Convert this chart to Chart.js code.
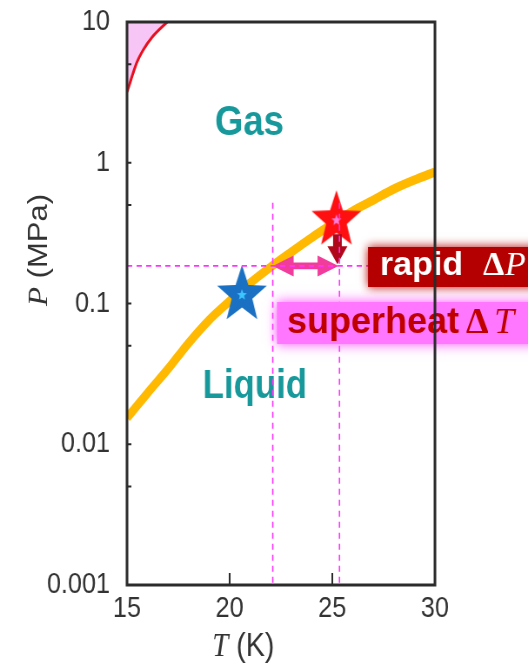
<!DOCTYPE html>
<html><head><meta charset="utf-8">
<script src="https://cdn.jsdelivr.net/npm/chart.js@4/dist/chart.umd.min.js"></script>
<style>
html,body{margin:0;padding:0;background:#fff;overflow:hidden;width:528px;height:664px}
#wrap{width:607px;height:664px;transform:scaleX(0.869852);transform-origin:0 0}
canvas{display:block}
</style></head><body>
<div id="wrap"><canvas id="c" width="607" height="664" style="width:607px;height:664px"></canvas></div>
<script>
// ---- data ----
const xTicks = [15, 20, 25, 30];
const xInnerTicks = [20, 25];
const yTicks = [0.001, 0.01, 0.1, 1, 10];
const yTickText = ['0.001', '0.01', '0.1', '1', '10'];
const yMinorTicks = [0.005, 0.05, 0.5, 5];

// liquid-gas (vapor pressure) curve
const T_vap = [15, 16, 17, 18, 19, 20, 21, 22, 23, 24, 25, 26, 27, 28, 29, 30];
const P_vap = [0.0154, 0.0231, 0.0343, 0.0524, 0.0763, 0.104, 0.140, 0.182, 0.232, 0.294, 0.367, 0.454, 0.543, 0.651, 0.754, 0.86];

// melting curve (top-left)
const T_melt = [15.0, 15.49, 15.78, 16.22, 16.95];
const P_melt = [3.18, 5.2, 6.3, 7.8, 10];

// stars
const starT = [20.6, 25.2];
const starP = [0.115, 0.39];

// dashed guides
const guideT = [22.1, 25.35];
const guideTopP = 0.52;
const guideBottomP = 0.001;
const guideP = 0.185;
const guideStartT = 15;
const guideEndT = 27.0;

// arrows
const dTArrowT = [22.1, 25.3];
const dTArrowP = 0.185;
const dPArrowT = 25.25;
const dPArrowP = [0.31, 0.19];

// ---- rendering ----
const S = 528 / 607;
const SANS = '"Liberation Sans", Arial, sans-serif';
const SERIF = '"Liberation Serif", "Times New Roman", serif';

function drawStar(g, cx, cy, R, r, color) {
  g.beginPath();
  for (let i = 0; i < 10; i++) {
    const a = -Math.PI / 2 + i * Math.PI / 5;
    const rr = i % 2 ? r : R;
    g.lineTo(cx + rr * Math.cos(a), cy + rr * Math.sin(a));
  }
  g.closePath();
  g.fillStyle = color;
  g.fill();
}
function starImage(color, inner) {
  const c = document.createElement('canvas');
  c.width = 66; c.height = 66;
  const g = c.getContext('2d');
  drawStar(g, 33, 33, 30, 12.5, color);
  drawStar(g, 33, 33, 6, 2.6, inner);
  return c;
}
const starImgs = [starImage('#1a70c2', '#3cc6ff'), starImage('#ff1010', '#ff7ddc')];

const pts = (xs, ys) => xs.map((x, i) => ({x, y: ys[i]}));

const guideStyle = {borderColor: '#ff33ff', borderWidth: 1.6, borderDash: [6, 5], pointRadius: 0, fill: false, order: 0};

const plugin = {
  id: 'deco',
  beforeDatasetsDraw(chart) {
    const ctx = chart.ctx;
    ctx.save();
    ctx.fillStyle = '#17999b';
    ctx.textBaseline = 'alphabetic';
    ctx.textAlign = 'left';
    ctx.font = 'bold 42px ' + SANS;
    ctx.fillText('Gas', 247, 135);
    ctx.font = 'bold 40px ' + SANS;
    ctx.fillText('Liquid', 233, 398);
    ctx.restore();
  },
  afterDatasetDraw(chart, args) {
    if (args.index !== 3) return; // after stars
    const ctx = chart.ctx;
    const xs = chart.scales.x, ys = chart.scales.y;
    // pink double arrow (superheat)
    const x1 = xs.getPixelForValue(dTArrowT[0]);
    const x2 = xs.getPixelForValue(dTArrowT[1]);
    const y = ys.getPixelForValue(dTArrowP);
    const hl = 24, hh = 10.5, sh = 3.3;
    ctx.save();
    ctx.fillStyle = '#f23c9c';
    ctx.beginPath();
    ctx.moveTo(x1, y);
    ctx.lineTo(x1 + hl, y - hh);
    ctx.lineTo(x1 + hl, y - sh);
    ctx.lineTo(x2 - hl, y - sh);
    ctx.lineTo(x2 - hl, y - hh);
    ctx.lineTo(x2, y);
    ctx.lineTo(x2 - hl, y + hh);
    ctx.lineTo(x2 - hl, y + sh);
    ctx.lineTo(x1 + hl, y + sh);
    ctx.lineTo(x1 + hl, y + hh);
    ctx.closePath();
    ctx.fill();
    // dark red drop arrow (rapid dP)
    const ax = xs.getPixelForValue(dPArrowT);
    const ya = ys.getPixelForValue(dPArrowP[0]);
    const yb = ys.getPixelForValue(dPArrowP[1]);
    const w = 5, hw = 11.5, hL = 18;
    ctx.fillStyle = '#b0081a';
    ctx.beginPath();
    ctx.moveTo(ax - w, ya);
    ctx.lineTo(ax + w, ya);
    ctx.lineTo(ax + w, yb - hL);
    ctx.lineTo(ax + hw, yb - hL);
    ctx.lineTo(ax, yb);
    ctx.lineTo(ax - hw, yb - hL);
    ctx.lineTo(ax - w, yb - hL);
    ctx.closePath();
    ctx.fill();
    ctx.restore();
  },
  afterDatasetsDraw(chart) {
    const ctx = chart.ctx;
    const {left, right, top, bottom} = chart.chartArea;
    const xs = chart.scales.x, ys = chart.scales.y;
    // labels (drawn in unsqueezed screen units)
    ctx.save();
    ctx.scale(1 / S, 1);
    ctx.textBaseline = 'alphabetic';
    ctx.textAlign = 'left';
    ctx.shadowColor = '#b80000';
    ctx.shadowBlur = 10;
    ctx.fillStyle = '#b40000';
    ctx.fillRect(368, 247, 180, 40);
    ctx.shadowBlur = 0;
    ctx.fillStyle = '#ffffff';
    ctx.font = 'bold 34px ' + SANS;
    ctx.fillText('rapid', 380, 275);
    ctx.font = 'bold 34px ' + SERIF;
    ctx.fillText('\u0394', 483, 275);
    ctx.font = 'italic 34px ' + SERIF;
    ctx.fillText('P', 505, 275);

    ctx.shadowColor = '#ff4dff';
    ctx.shadowBlur = 12;
    ctx.fillStyle = '#ff77ff';
    ctx.fillRect(277, 302, 270, 42);
    ctx.shadowBlur = 0;
    ctx.fillStyle = '#c00000';
    ctx.font = 'bold 36px ' + SANS;
    ctx.fillText('superheat', 287, 333);
    ctx.font = 'bold 36px ' + SERIF;
    ctx.fillText('\u0394', 466, 333);
    ctx.font = 'italic 36px ' + SERIF;
    ctx.fillText('T', 494, 333);
    ctx.restore();

    // frame and inward ticks
    ctx.save();
    ctx.strokeStyle = '#2b2b2b';
    ctx.lineWidth = 3;
    ctx.strokeRect(left, top, right - left, bottom - top);
    ctx.lineWidth = 2;
    ctx.beginPath();
    yTicks.concat(yMinorTicks).forEach(v => {
      const py = ys.getPixelForValue(v);
      ctx.moveTo(left, py); ctx.lineTo(left + 5, py);
    });
    xInnerTicks.forEach(v => {
      const px = xs.getPixelForValue(v);
      ctx.moveTo(px, bottom); ctx.lineTo(px, bottom - 12);
    });
    ctx.stroke();
    ctx.restore();

    // axis titles
    ctx.save();
    ctx.fillStyle = '#333';
    ctx.textBaseline = 'alphabetic';
    ctx.textAlign = 'left';
    ctx.translate(54, 250);
    ctx.rotate(-Math.PI / 2);
    ctx.font = 'italic 31px ' + SERIF;
    const wP = ctx.measureText('P').width;
    ctx.font = '31px ' + SANS;
    const wR = ctx.measureText(' (MPa)').width;
    const x0 = -(wP + wR) / 2;
    ctx.font = 'italic 31px ' + SERIF;
    ctx.fillText('P', x0, 0);
    ctx.font = '31px ' + SANS;
    ctx.fillText(' (MPa)', x0 + wP, 0);
    ctx.restore();

    ctx.save();
    ctx.fillStyle = '#333';
    ctx.textBaseline = 'alphabetic';
    ctx.textAlign = 'left';
    ctx.font = 'italic 33px ' + SERIF;
    const wT = ctx.measureText('T').width;
    ctx.fillText('T', 244, 656);
    ctx.font = '33px ' + SANS;
    ctx.fillText(' (K)', 244 + wT, 656);
    ctx.restore();
  }
};

new Chart(document.getElementById('c'), {
  type: 'line',
  data: {
    datasets: [
      Object.assign({data: pts([guideT[0], guideT[0]], [guideTopP, guideBottomP])}, guideStyle),
      Object.assign({data: pts([guideT[1], guideT[1]], [guideTopP, guideBottomP])}, guideStyle),
      Object.assign({data: pts([guideStartT, guideEndT], [guideP, guideP])}, guideStyle),
      {
        data: pts(starT, starP), showLine: false,
        pointStyle: starImgs, pointRadius: 12, pointHoverRadius: 12, order: 1
      },
      {
        data: pts(T_vap, P_vap), borderColor: '#ffb900', borderWidth: 9,
        cubicInterpolationMode: 'monotone', pointRadius: 0, fill: false, order: 2
      },
      {
        data: pts(T_melt, P_melt), borderColor: '#e8101e', borderWidth: 3,
        cubicInterpolationMode: 'monotone', pointRadius: 0,
        fill: 'end', backgroundColor: '#f8c6f6', order: 3
      }
    ]
  },
  options: {
    responsive: false,
    devicePixelRatio: 1,
    animation: false,
    layout: {padding: {left: 0, right: 107, top: 22, bottom: 0}},
    plugins: {legend: {display: false}, tooltip: {enabled: false}},
    events: [],
    scales: {
      x: {
        type: 'linear', min: 15, max: 30,
        grid: {display: false, drawTicks: false},
        border: {display: false},
        ticks: {
          font: {family: SANS, size: 29}, color: '#333', padding: 7,
          maxRotation: 0, autoSkip: false,
          callback: v => String(v)
        },
        afterBuildTicks: s => { s.ticks = xTicks.map(v => ({value: v})); },
        afterFit: s => { s.height = 79; s.paddingLeft = 0; s.paddingRight = 0; }
      },
      y: {
        type: 'logarithmic', min: 0.001, max: 10,
        grid: {display: false, drawTicks: false},
        border: {display: false},
        ticks: {
          font: {family: SANS, size: 29}, color: '#333', padding: 19.5,
          autoSkip: false,
          callback: (v, i) => yTickText[i]
        },
        afterBuildTicks: s => { s.ticks = yTicks.map(v => ({value: v})); },
        afterFit: s => { s.width = 146; s.paddingTop = 0; s.paddingBottom = 0; }
      }
    }
  },
  plugins: [plugin]
});
</script>
</body></html>
